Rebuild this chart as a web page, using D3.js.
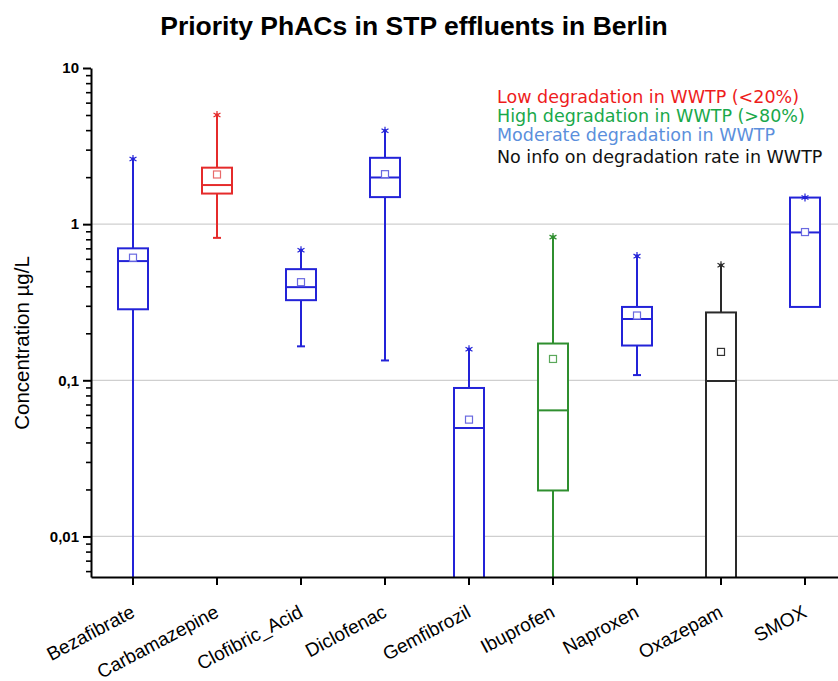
<!DOCTYPE html>
<html><head><meta charset="utf-8">
<script src="https://cdn.jsdelivr.net/npm/d3@7"></script>
<style>body{margin:0;background:#fff}svg{display:block}</style>
</head><body>
<svg id="c" width="838" height="681"></svg>
<script>
const categories = ["Bezafibrate","Carbamazepine","Clofibric_Acid","Diclofenac","Gemfibrozil","Ibuprofen","Naproxen","Oxazepam","SMOX"];
const groups     = ["moderate","low","moderate","moderate","moderate","high","moderate","none","moderate"];
const whiskerLow = [0.002, 0.817, 0.165, 0.134, 0.002, 0.002, 0.108, 0.002, 0.295];
const q1         = [0.285, 1.57, 0.326, 1.49, 0.002, 0.0197, 0.167, 0.002, 0.295];
const medians    = [0.58, 1.78, 0.395, 1.99, 0.0495, 0.0642, 0.247, 0.099, 0.885];
const q3         = [0.70, 2.30, 0.515, 2.66, 0.0893, 0.172, 0.295, 0.272, 1.48];
const means      = [0.61, 2.08, 0.425, 2.09, 0.056, 0.137, 0.26, 0.152, 0.89];
const maxima     = [2.61, 5.0, 0.68, 3.96, 0.158, 0.826, 0.624, 0.546, 1.48];
const lowCap     = [false, true, true, true, false, false, true, false, false];
const yTicks     = [0.01, 0.1, 1, 10];
const yTickLabels= ["0,01","0,1","1","10"];
const legendItems= ["Low degradation in WWTP (<20%)","High degradation in WWTP (>80%)","Moderate degradation in WWTP","No info on degradation rate in WWTP"];
const legendGroups=["low","high","moderate","none"];

const boxColor = {low:"#e52b2b", high:"#2f8f2f", moderate:"#2323d8", none:"#2a2a2a"};
const meanColor = {low:"#e86a6a", high:"#5aa85a", moderate:"#6a6ae0", none:"#333"};
const legendColor = {low:"#ee1c1c", high:"#19a84a", moderate:"#5b8fdc", none:"#111"};

const svg = d3.select("#c");
const pLeft = 91, pBottom = 577, pTop = 68;
const x = d3.scaleBand().domain(categories).range([pLeft, pLeft + 84*9]).padding(0);
const y = d3.scaleLog().domain([0.0055, 10]).range([pBottom, pTop]);

svg.append("clipPath").attr("id","plot").append("rect")
  .attr("x", pLeft).attr("y", pTop-20).attr("width", 838-pLeft).attr("height", pBottom-pTop+20);

// gridlines
svg.append("g").selectAll("line").data(yTicks.slice(0,3)).join("line")
  .attr("x1", pLeft).attr("x2", 838).attr("y1", d=>y(d)).attr("y2", d=>y(d))
  .attr("stroke", "#cfcfcf").attr("stroke-width", 1.2);

// title
svg.append("text").attr("x", 414).attr("y", 35).attr("text-anchor","middle")
  .attr("font-family","Liberation Sans, Arial, sans-serif").attr("font-weight","bold")
  .attr("font-size", 26.5).text("Priority PhACs in STP effluents in Berlin");

// y label
svg.append("text").attr("transform","translate(29,343) rotate(-90)").attr("text-anchor","middle")
  .attr("font-family","Liberation Sans, Arial, sans-serif").attr("font-size", 20.5)
  .text("Concentration µg/L");

// boxes
const half = 15;
const g = svg.append("g").attr("clip-path","url(#plot)");
categories.forEach((c,i) => {
  const cx = x(c) + x.bandwidth()/2;
  const col = boxColor[groups[i]];
  const gg = g.append("g").attr("stroke", col).attr("stroke-width", 2).attr("fill","none");
  gg.append("line").attr("x1",cx).attr("x2",cx).attr("y1",y(q3[i])).attr("y2",y(maxima[i]));
  gg.append("line").attr("x1",cx).attr("x2",cx).attr("y1",y(q1[i])).attr("y2",y(whiskerLow[i]));
  if (lowCap[i]) gg.append("line").attr("x1",cx-4).attr("x2",cx+4).attr("y1",y(whiskerLow[i])).attr("y2",y(whiskerLow[i]));
  gg.append("rect").attr("x",cx-half).attr("width",half*2)
    .attr("y",y(q3[i])).attr("height",y(q1[i])-y(q3[i])).attr("fill","#fff");
  gg.append("line").attr("x1",cx-half).attr("x2",cx+half).attr("y1",y(medians[i])).attr("y2",y(medians[i]));
  gg.append("rect").attr("x",cx-3.5).attr("y",y(means[i])-3.5).attr("width",7).attr("height",7)
    .attr("fill","#fff").attr("stroke",meanColor[groups[i]]).attr("stroke-width",1.2);
  gg.append("path").attr("transform",`translate(${cx},${y(maxima[i])})`)
    .attr("d", d3.symbol(d3.symbolAsterisk, 45)()).attr("stroke-width",1.2);
  gg.append("circle").attr("cx",cx).attr("cy",y(maxima[i])).attr("r",1.8).attr("fill",col).attr("stroke","none");
});

// y axis
const fmt = d => yTickLabels[yTicks.indexOf(d)];
const yAx = svg.append("g").attr("transform",`translate(${pLeft},0)`)
  .call(d3.axisLeft(y).tickValues(yTicks).tickFormat(fmt).tickSize(8).tickSizeOuter(0));
yAx.select(".domain").attr("stroke-width",2);
yAx.selectAll(".tick line").attr("stroke-width",2);
yAx.selectAll(".tick text").attr("font-family","Liberation Sans, Arial, sans-serif")
  .attr("font-weight","bold").attr("font-size",15).attr("x",-12).attr("fill","#000");
const minor = [];
[0.001,0.01,0.1,1].forEach(d => { for (let k=2;k<10;k++){ const v=d*k; if (v>=0.0055 && v<=10) minor.push(v);} });
svg.append("g").attr("transform",`translate(${pLeft},0)`)
  .call(d3.axisLeft(y).tickValues(minor).tickFormat("").tickSize(5).tickSizeOuter(0))
  .call(s => s.select(".domain").remove())
  .selectAll(".tick line").attr("stroke-width",1.6);

// x axis
const xAx = svg.append("g").attr("transform",`translate(0,${pBottom})`)
  .call(d3.axisBottom(x).tickSize(8).tickSizeOuter(0));
xAx.select(".domain").attr("stroke-width",2);
xAx.selectAll(".tick line").attr("stroke-width",2);
xAx.selectAll(".tick text").attr("font-family","Liberation Sans, Arial, sans-serif")
  .attr("font-size",19).attr("fill","#000").attr("text-anchor","end")
  .attr("transform","translate(3,39) rotate(-28)").attr("y",0).attr("dy",0);

// legend
svg.append("g").selectAll("text").data(legendItems).join("text")
  .attr("x",497).attr("y",(d,i)=>[103,122,141,163][i])
  .attr("font-family","DejaVu Sans, Verdana, sans-serif").attr("font-size",17.5)
  .attr("fill",(d,i)=>legendColor[legendGroups[i]]).text(d=>d);
</script>
</body></html>
